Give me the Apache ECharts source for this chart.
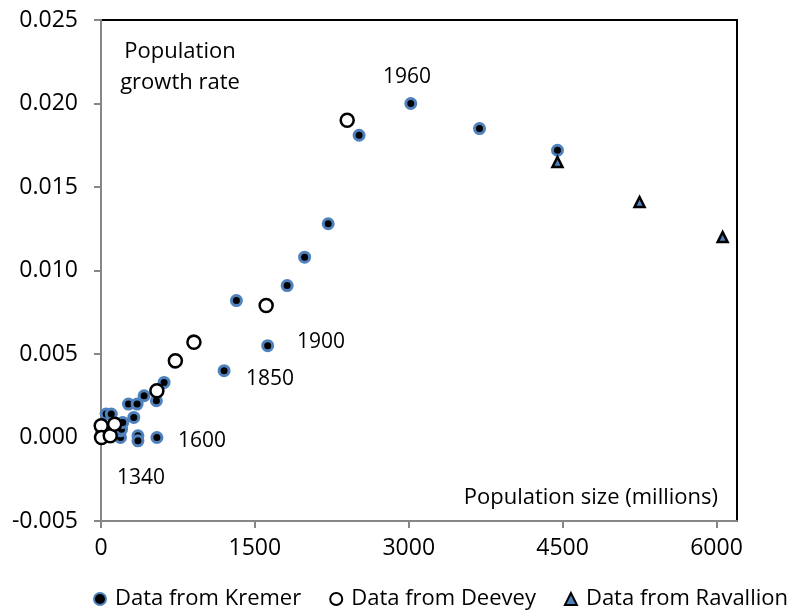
<!DOCTYPE html>
<html>
<head>
    <meta charset="utf-8">
    <title>Population growth rate</title>
    <script src="https://cdn.jsdelivr.net/npm/echarts@6/dist/echarts.min.js"></script>
    <style>
        html, body { margin: 0; padding: 0; background: #fff; }
        #chart { width: 793px; height: 613px; }
    </style>
</head>
<body>
<div id="chart"></div>
<script>
    // population (millions), growth rate per year
    var kremer = [
        [0.1, 0.0000], [1, 0.0000], [3, 0.0000], [4, 0.0001], [5, 0.0003],
        [7, 0.0007], [14, 0.0007], [27, 0.0006], [50, 0.0014], [100, 0.0014],
        [150, 0.0006], [170, 0.0006], [190, 0.0000], [190, 0.0004], [200, 0.0005],
        [212, 0.0009], [268, 0.0020], [320, 0.0012], [360, 0.0001], [360, -0.0002],
        [352, 0.0020], [420, 0.0025], [545, 0.0000], [540, 0.0022], [615, 0.0033],
        [720, 0.0045], [900, 0.0058], [1200, 0.0040], [1320, 0.0082], [1625, 0.0055],
        [1815, 0.0091], [1985, 0.0108], [2215, 0.0128], [2516, 0.0181], [3020, 0.0200],
        [3690, 0.0185], [4450, 0.0172]
    ];
    var deevey = [
        [2, 0.0007], [5, 0.0000], [90, 0.0001], [133, 0.0008], [545, 0.0028],
        [725, 0.0046], [906, 0.0057], [1610, 0.0079], [2400, 0.0190]
    ];
    var ravallion = [
        [4450, 0.0165], [5250, 0.0141], [6060, 0.0120]
    ];
    var xTicks = [0, 1500, 3000, 4500, 6000];
    var yTicks = [-0.005, 0, 0.005, 0.010, 0.015, 0.020, 0.025];
    // year labels next to some of the points
    var yearNotes = [
        { text: '1960', x: 383, y: 77 },
        { text: '1900', x: 297, y: 342 },
        { text: '1850', x: 246, y: 379 },
        { text: '1600', x: 178, y: 441 },
        { text: '1340', x: 117, y: 478 }
    ];

    var font = 'Open Sans';
    var fs = 21;
    var tickFs = 23;
    var axisGray = '#868686';

    var graphics = [
        { type: 'text', x: 180, y: 67, style: { text: 'Population\ngrowth rate', font: '22px "Open Sans"', fill: '#000', align: 'center', verticalAlign: 'middle', lineHeight: 31 } },
        { type: 'text', x: 718, y: 498, style: { text: 'Population size (millions)', font: '22px "Open Sans"', fill: '#000', align: 'right', verticalAlign: 'middle' } }
    ];
    yearNotes.forEach(function (n) {
        graphics.push({ type: 'text', x: n.x, y: n.y, style: { text: n.text, font: fs + 'px "Open Sans"', fill: '#000', verticalAlign: 'middle' } });
    });

    var myChart = echarts.init(document.getElementById('chart'));
    var option = {
        animation: false,
        textStyle: { fontFamily: font },
        grid: {
            left: 101, top: 20, right: 56, bottom: 92,
            show: true, borderColor: '#000', borderWidth: 2
        },
        legend: {
            top: 583,
            left: 88,
            itemGap: 28,
            itemWidth: 12,
            itemHeight: 12,
            textStyle: { fontFamily: font, fontSize: 22, color: '#000', padding: [0, 0, 0, 4] },
            data: ['Data from Kremer', 'Data from Deevey', 'Data from Ravallion']
        },
        xAxis: {
            type: 'value',
            min: 0, max: 6200,
            splitLine: { show: false },
            axisLine: { onZero: false, lineStyle: { color: axisGray, width: 2 } },
            axisTick: { show: true, length: 7, customValues: xTicks, lineStyle: { color: axisGray, width: 2 } },
            axisLabel: {
                customValues: xTicks,
                color: '#000', fontSize: tickFs, fontFamily: font, margin: 16,
                formatter: function (v) { return String(v); }
            }
        },
        yAxis: {
            type: 'value',
            min: -0.005, max: 0.025, interval: 0.005,
            splitLine: { show: false },
            axisLine: { onZero: false, lineStyle: { color: axisGray, width: 2 } },
            axisTick: { show: true, length: 7, customValues: yTicks, lineStyle: { color: axisGray, width: 2 } },
            axisLabel: {
                customValues: yTicks,
                color: '#000', fontSize: tickFs, fontFamily: font, margin: 23,
                formatter: function (v) { return v.toFixed(3); }
            }
        },
        graphic: graphics,
        series: [
            {
                name: 'Data from Kremer',
                type: 'scatter',
                data: kremer,
                symbol: 'circle',
                symbolSize: 10,
                itemStyle: { color: '#000', borderColor: '#4F81BD', borderWidth: 3, opacity: 1 }
            },
            {
                name: 'Data from Deevey',
                type: 'scatter',
                data: deevey,
                symbol: 'circle',
                symbolSize: 13,
                itemStyle: { color: '#fff', borderColor: '#000', borderWidth: 2.5, opacity: 1 }
            },
            {
                name: 'Data from Ravallion',
                type: 'scatter',
                data: ravallion,
                symbol: 'triangle',
                symbolSize: 10,
                itemStyle: { color: '#4F81BD', borderColor: '#000', borderWidth: 2.5, opacity: 1 }
            }
        ]
    };
    myChart.setOption(option);
</script>
</body>
</html>
